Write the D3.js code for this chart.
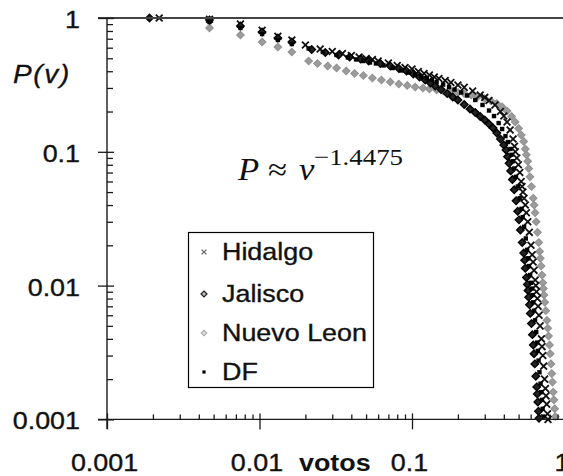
<!DOCTYPE html>
<html><head><meta charset="utf-8">
<script src="https://cdn.jsdelivr.net/npm/d3@7"></script>
<style>html,body{margin:0;padding:0;background:#fff;} svg{display:block;}</style>
</head><body><svg id="c" width="563" height="476"></svg>
<script>
// ---- data: [v (normalised votes), P(v)] ----
const hidalgo = [[0.0022,1.0],[0.0047,0.98],[0.0075,0.90],[0.0104,0.81],[0.0132,0.73],[0.0163,0.685],
[0.020,0.628],[0.025,0.586],[0.030,0.562],[0.035,0.543],[0.040,0.524],[0.045,0.511],[0.050,0.498],[0.055,0.490],[0.060,0.477],[0.070,0.461],[0.080,0.442],[0.090,0.427],[0.100,0.416],[0.110,0.398],[0.120,0.385],[0.130,0.375],[0.140,0.362],[0.150,0.353],[0.165,0.341],[0.180,0.330],[0.200,0.316],[0.220,0.303],[0.250,0.285],[0.280,0.266],[0.300,0.255],[0.320,0.2416],[0.350,0.224],[0.380,0.200],[0.400,0.185],[0.420,0.167],[0.440,0.1455],[0.460,0.1247],
[0.470,0.11],[0.4757,0.10],[0.4866,0.09],[0.4985,0.08],[0.5092,0.07],[0.520,0.06],[0.5265,0.055],[0.534,0.05],[0.5427,0.045],[0.5534,0.04],[0.5623,0.035],[0.5744,0.03],[0.5875,0.025],[0.6026,0.02],[0.6138,0.017],[0.6223,0.015],[0.631,0.013],[0.6427,0.011],[0.6486,0.01],[0.6552,0.009],[0.6642,0.008],[0.6714,0.007],[0.6805,0.006],[0.6918,0.005],[0.7055,0.004],[0.712,0.0035],[0.7206,0.003],[0.7295,0.0025],[0.7405,0.002],[0.7496,0.0017],[0.7564,0.0015],[0.7645,0.0013],[0.7737,0.0011],[0.7796,0.001]];

const jalisco = [[0.0019,1.0],[0.0047,0.966],[0.0075,0.871],[0.0104,0.786],[0.0132,0.709],[0.0163,0.662],
[0.022,0.582],[0.027,0.552],[0.033,0.529],[0.039,0.511],[0.046,0.494],[0.052,0.477],[0.062,0.457],[0.072,0.438],[0.082,0.4195],[0.092,0.402],[0.102,0.3815],[0.112,0.362],[0.122,0.344],[0.132,0.3267],[0.142,0.310],[0.155,0.292],[0.17,0.2727],[0.185,0.2568],[0.20,0.2438],[0.22,0.2257],[0.24,0.2089],[0.26,0.1966],[0.28,0.1836],[0.30,0.1728],[0.32,0.1613],[0.34,0.1506],[0.36,0.138],[0.38,0.1246],[0.40,0.1124],
[0.4135,0.103],[0.4229,0.092],[0.4332,0.082],[0.4438,0.072],[0.4554,0.062],[0.468,0.052],[0.4816,0.043],[0.4933,0.036],[0.503,0.031],[0.5138,0.026],[0.5279,0.021],[0.5403,0.0175],[0.5477,0.0155],[0.5534,0.0135],[0.5626,0.0115],[0.5702,0.0102],[0.5763,0.0092],[0.5823,0.0082],[0.5894,0.0072],[0.5965,0.0062],[0.6067,0.0052],[0.6158,0.0043],[0.6242,0.0036],[0.631,0.0031],[0.6386,0.0026],[0.6484,0.0021],[0.6572,0.00175],[0.6632,0.00155],[0.6683,0.00135],[0.6754,0.00115],[0.6805,0.00102]];

const nuevoLeon = [[0.0047,0.842],[0.0075,0.746],[0.0104,0.662],[0.0132,0.607],[0.0163,0.557],
[0.021,0.477],[0.024,0.457],[0.028,0.438],[0.032,0.423],[0.037,0.402],[0.042,0.385],[0.048,0.3717],[0.055,0.356],[0.063,0.344],[0.072,0.3325],[0.082,0.321],[0.093,0.313],[0.105,0.305],[0.118,0.2997],[0.13,0.2946],[0.145,0.2897],[0.16,0.2847],[0.18,0.2823],[0.20,0.2775],[0.22,0.2727],[0.245,0.2657],[0.27,0.259],[0.30,0.2502],[0.33,0.2397],[0.36,0.2296],[0.39,0.2162],[0.42,0.2018],[0.45,0.1836],[0.475,0.167],[0.50,0.1494],[0.52,0.1335],[0.54,0.1194],
[0.5534,0.105],[0.5626,0.095],[0.5737,0.085],[0.5833,0.075],[0.5939,0.065],[0.6075,0.055],[0.6234,0.045],[0.6319,0.04],[0.6415,0.035],[0.6522,0.03],[0.6653,0.025],[0.6774,0.021],[0.6866,0.018],[0.694,0.016],[0.7025,0.014],[0.712,0.012],[0.7206,0.0105],[0.7271,0.0095],[0.7338,0.0085],[0.7426,0.0075],[0.7541,0.0065],[0.7678,0.0055],[0.7771,0.0048],[0.7865,0.0042],[0.7972,0.0036],[0.8057,0.0031],[0.8156,0.0026],[0.8254,0.0022],[0.8342,0.0019],[0.8433,0.0016],[0.852,0.0014],[0.8622,0.0012],[0.8703,0.00105]];

const df = [[0.0047,0.933],[0.0075,0.842],[0.0104,0.759],[0.0132,0.685],[0.0163,0.639],
[0.021,0.592],[0.026,0.557],[0.032,0.529],[0.038,0.507],[0.043,0.490],[0.048,0.477],[0.053,0.465],[0.058,0.457],[0.065,0.442],[0.075,0.423],[0.085,0.405],[0.095,0.391],[0.105,0.378],[0.115,0.365],[0.125,0.353],[0.135,0.344],[0.145,0.332],[0.16,0.318],[0.175,0.305],[0.19,0.292],[0.21,0.2775],[0.23,0.2634],[0.26,0.2438],[0.29,0.224],[0.32,0.2035],[0.345,0.185],[0.37,0.164],[0.39,0.148],[0.41,0.131],[0.425,0.1183],
[0.4418,0.105],[0.4485,0.095],[0.4574,0.085],[0.468,0.075],[0.480,0.065],[0.4941,0.055],[0.5084,0.045],[0.5224,0.0375],[0.532,0.0325],[0.5433,0.0275],[0.5574,0.0225],[0.5685,0.0185],[0.578,0.016],[0.585,0.014],[0.5948,0.012],[0.6026,0.0105],[0.6095,0.0095],[0.6166,0.0085],[0.6234,0.0075],[0.6319,0.0065],[0.6406,0.0055],[0.6522,0.0045],[0.6612,0.00375],[0.6683,0.00325],[0.6761,0.00275],[0.6855,0.00225],[0.696,0.00185],[0.7034,0.0016],[0.7109,0.0014],[0.7185,0.0012],[0.7261,0.00105]];

const seriesNames = ["Hidalgo", "Jalisco", "Nuevo Leon", "DF"];
const xTickValues = [0.001, 0.01, 0.1, 1];
const xTickLabels = ["0.001", "0.01", "0.1", "1"];
const yTickValues = [0.001, 0.01, 0.1, 1];
const yTickLabels = ["0.001", "0.01", "0.1", "1"];
const xTitle = "votos";
const yTitle = "P(v)";
const fitExponent = "\u22121.4475";

// ---- drawing ----
const svg = d3.select("#c");
const FONT = "'Liberation Sans', Arial, sans-serif";
const SERIF = "'Liberation Serif', 'Times New Roman', serif";
const SX = 1.12;

const x = d3.scaleLog().domain([0.001, 1]).range([107, 564.5]);
const y = d3.scaleLog().domain([0.001, 1]).range([419.4, 18]);
const minorOf = s => s.ticks().filter(t => !xTickValues.some(m => Math.abs(m - t) < 1e-12));
const xMinor = minorOf(x);
const yMinor = minorOf(y);

svg.append("rect").attr("width", 563).attr("height", 476).attr("fill", "#fff");

// marker shapes
function markX(g, s, col, sw) {
  g.append("path").attr("d", `M${-s},${-s}L${s},${s}M${-s},${s}L${s},${-s}`)
    .attr("stroke", col).attr("stroke-width", sw).attr("fill", "none");
}
function markDiamond(g, s, stroke, fill, sw) {
  g.append("path").attr("d", `M0,${-s}L${s},0L0,${s}L${-s},0Z`)
    .attr("stroke", stroke).attr("stroke-width", sw).attr("fill", fill);
}
function markDot(g, s, col) {
  g.append("rect").attr("x", -s).attr("y", -s).attr("width", 2 * s).attr("height", 2 * s).attr("fill", col);
}
const plotStyles = {
  "Hidalgo": g => markX(g, 3.4, "#111", 1.8),
  "Jalisco": g => markDiamond(g, 3.8, "#000", "#222", 1.3),
  "Nuevo Leon": g => markDiamond(g, 3.7, "#939393", "#9c9c9c", 1.2),
  "DF": g => markDot(g, 2.2, "#000"),
};
const legendStyles = {
  "Hidalgo": g => markX(g, 2.4, "#666", 1.3),
  "Jalisco": g => markDiamond(g, 3.0, "#222", "#bbb", 1.2),
  "Nuevo Leon": g => markDiamond(g, 2.8, "#aaa", "#ddd", 1.1),
  "DF": g => markDot(g, 1.6, "#000"),
};
const seriesData = { "Hidalgo": hidalgo, "Jalisco": jalisco, "Nuevo Leon": nuevoLeon, "DF": df };

const plot = svg.append("g");
["Nuevo Leon", "Hidalgo", "Jalisco", "DF"].forEach(name => {
  plot.append("g").attr("class", "series")
    .selectAll("g").data(seriesData[name]).join("g")
    .attr("transform", d => `translate(${x(d[0])},${y(d[1])})`)
    .each(function () { plotStyles[name](d3.select(this)); });
});

// axes
const AX = "#1a1a1a";
svg.append("line").attr("x1", 98).attr("x2", 563).attr("y1", y(1)).attr("y2", y(1))
  .attr("stroke", "#444").attr("stroke-width", 2);
svg.append("line").attr("x1", x(0.001)).attr("x2", x(0.001)).attr("y1", y(1)).attr("y2", 429)
  .attr("stroke", AX).attr("stroke-width", 1.4);
svg.append("line").attr("x1", 98).attr("x2", 563).attr("y1", y(0.001)).attr("y2", y(0.001))
  .attr("stroke", AX).attr("stroke-width", 1.4);

function styleAxis(g) {
  g.select(".domain").remove();
  g.selectAll("line").attr("stroke", AX).attr("stroke-width", 1.3);
}
const textStyle = t => t.attr("font-family", FONT).attr("font-size", 24).attr("fill", "#111")
  .attr("stroke", "#111").attr("stroke-width", 0.35);

// x minor (inside, upward)
svg.append("g").attr("transform", `translate(0,${y(0.001)})`)
  .call(d3.axisTop(x).tickValues(xMinor).tickSize(5).tickFormat("")).call(styleAxis);
svg.append("g").attr("transform", `translate(0,${y(0.001)})`)
  .call(d3.axisTop(x).tickValues(xTickValues).tickSize(6).tickFormat("")).call(styleAxis);
const xa = svg.append("g").attr("transform", `translate(0,${y(0.001)})`)
  .call(d3.axisBottom(x).tickValues(xTickValues).tickSize(10).tickSizeOuter(0)
    .tickFormat((d, i) => xTickLabels[i])).call(styleAxis);
xa.selectAll("text").attr("y", null).attr("dy", null)
  .attr("transform", `translate(-3,52) scale(${SX},1)`)
  .call(textStyle).attr("text-anchor", "middle");

// y minor (inside, rightward)
svg.append("g").attr("transform", `translate(${x(0.001)},0)`)
  .call(d3.axisRight(y).tickValues(yMinor).tickSize(6).tickFormat("")).call(styleAxis);
svg.append("g").attr("transform", `translate(${x(0.001)},0)`)
  .call(d3.axisRight(y).tickValues(yTickValues).tickSize(7).tickFormat("")).call(styleAxis);
const ya = svg.append("g").attr("transform", `translate(${x(0.001)},0)`)
  .call(d3.axisLeft(y).tickValues(yTickValues).tickSize(9).tickSizeOuter(0)
    .tickFormat((d, i) => yTickLabels[i])).call(styleAxis);
ya.selectAll("text").attr("x", null).attr("dy", null)
  .attr("transform", `translate(-27,9.5) scale(${SX},1)`)
  .call(textStyle).attr("text-anchor", "end");

// axis titles
svg.append("text").text(xTitle)
  .attr("transform", `translate(299,471) scale(${SX},1)`)
  .attr("font-family", FONT).attr("font-size", 24).attr("font-weight", "bold").attr("fill", "#111");
svg.append("text").text(yTitle)
  .attr("transform", `translate(13,83) scale(${SX},1)`)
  .attr("font-family", FONT).attr("font-size", 25).attr("font-style", "italic")
  .attr("letter-spacing", 1.5).attr("fill", "#111").attr("stroke", "#111").attr("stroke-width", 0.3);

// fitted power-law annotation
const ann = svg.append("g").attr("font-family", SERIF).attr("fill", "#111");
ann.append("text").text("P").attr("transform", `translate(238,180) scale(${SX},1)`)
  .attr("font-size", 31).attr("font-style", "italic");
ann.append("text").text("\u2248").attr("transform", `translate(268,180) scale(${SX},1)`)
  .attr("font-size", 31);
ann.append("text").text("v").attr("transform", `translate(299,180) scale(${SX},1)`)
  .attr("font-size", 31).attr("font-style", "italic");
ann.append("text").text(fitExponent).attr("transform", `translate(314,165) scale(${SX},1)`)
  .attr("font-size", 24);

// legend
const lg = svg.append("g");
lg.append("rect").attr("x", 188.5).attr("y", 232.5).attr("width", 185).attr("height", 155)
  .attr("fill", "#fff").attr("stroke", "#000").attr("stroke-width", 1.2);
const legendBase = [260, 302, 341, 380];
seriesNames.forEach((name, i) => {
  const mg = lg.append("g").attr("transform", `translate(204,${legendBase[i] - 8})`);
  legendStyles[name](mg);
  lg.append("text").text(name)
    .attr("transform", `translate(222,${legendBase[i]}) scale(${SX},1)`)
    .call(textStyle);
});
</script>
</body></html>
